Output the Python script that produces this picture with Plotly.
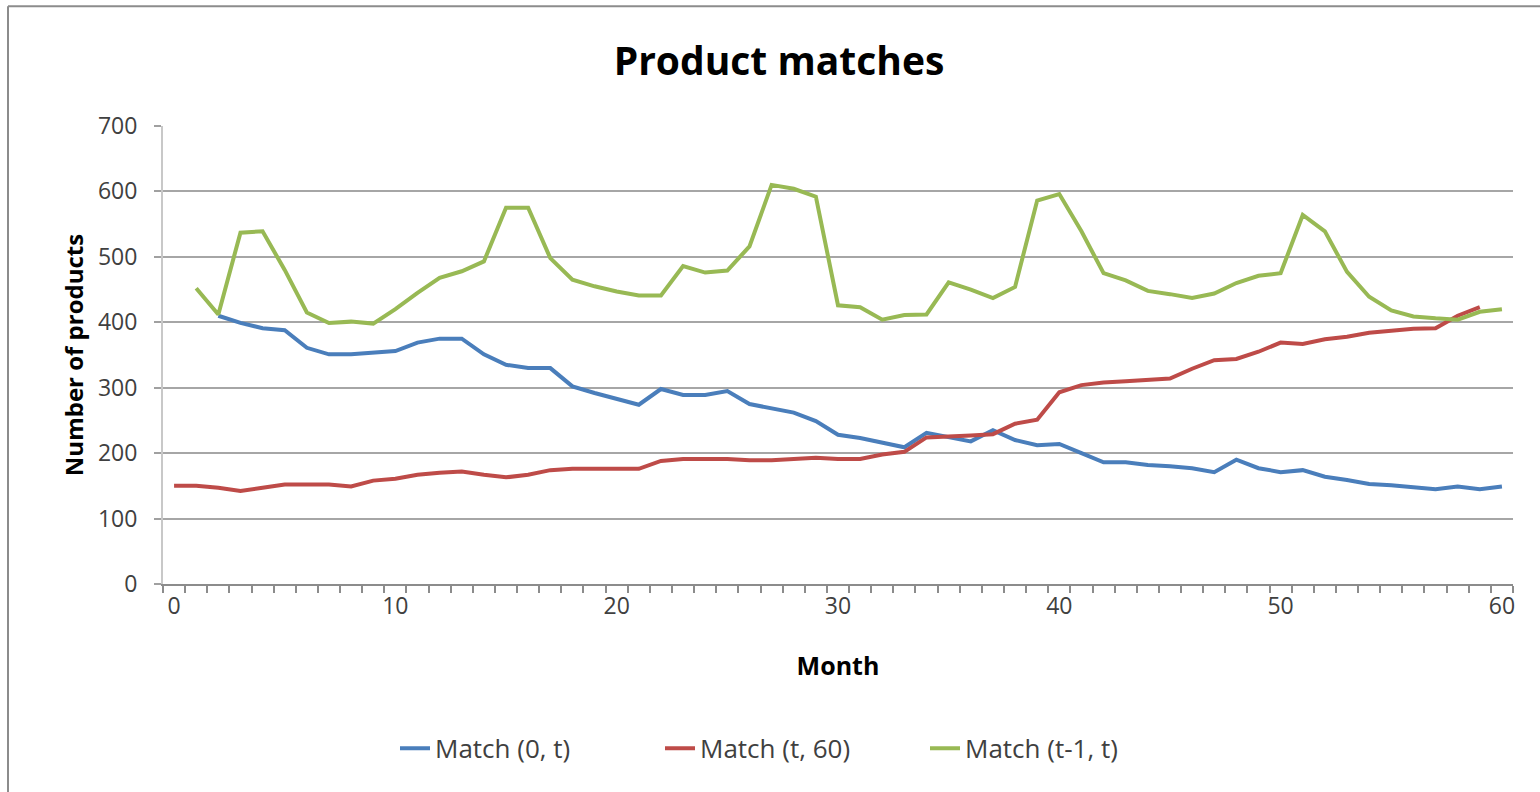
import plotly.graph_objects as go

# Categories (months)
months_match_0_t = list(range(2, 61))
months_match_t_60 = list(range(0, 60))
months_match_prev_t = list(range(1, 61))

# Series values
match_0_t = [410, 399, 391, 388, 361, 351, 351, 354, 356, 369,
             375, 375, 351, 335, 330, 330, 302, 292, 283, 274,
             298, 289, 289, 295, 275, 269, 262, 249, 228, 223,
             216, 209, 231, 224, 218, 235, 220, 212, 214, 200,
             186, 186, 182, 180, 177, 171, 190, 177, 171, 174,
             164, 159, 153, 151, 148, 145, 149, 145, 149]
match_t_60 = [150, 150, 147, 142, 147, 152, 152, 152, 149, 158,
              161, 167, 170, 172, 167, 163, 167, 174, 176, 176,
              176, 176, 188, 191, 191, 191, 189, 189, 191, 193,
              191, 191, 198, 202, 224, 225, 227, 229, 245, 251,
              293, 304, 308, 310, 312, 314, 329, 342, 344, 355,
              369, 367, 374, 378, 384, 387, 390, 391, 410, 423]
match_prev_t = [452, 412, 537, 539, 480, 415, 399, 401, 398, 420,
                445, 468, 478, 493, 575, 575, 498, 465, 455, 447,
                441, 441, 486, 476, 479, 516, 610, 604, 592, 426,
                423, 404, 411, 412, 461, 450, 437, 454, 586, 596,
                539, 475, 464, 448, 443, 437, 444, 460, 471, 475,
                564, 539, 477, 439, 418, 409, 406, 404, 416, 420]

x_tick_vals = [0, 10, 20, 30, 40, 50, 60]
x_tick_text = ["0", "10", "20", "30", "40", "50", "60"]
y_tick_vals = [0, 100, 200, 300, 400, 500, 600, 700]

FONT = "Open Sans"
TXT = "#404040"

fig = go.Figure()
fig.add_trace(go.Scatter(x=months_match_0_t, y=match_0_t, mode="lines",
                         name="Match (0, t)", line=dict(color="#4A7EBB", width=4)))
fig.add_trace(go.Scatter(x=months_match_t_60, y=match_t_60, mode="lines",
                         name="Match (t, 60)", line=dict(color="#BE4B48", width=4)))
fig.add_trace(go.Scatter(x=months_match_prev_t, y=match_prev_t, mode="lines",
                         name="Match (t-1, t)", line=dict(color="#98B954", width=4)))

W, H = 1540, 792
L, R, T, B = 163, 27, 126, 207.5
pw, ph = W - L - R, H - T - B

def px_x(p):
    return (p - L) / pw

def px_y(p):
    return (H - B - p) / ph

fig.update_layout(
    width=W, height=H,
    margin=dict(l=L, r=R, t=T, b=B, pad=0),
    paper_bgcolor="white", plot_bgcolor="white",
    font=dict(family=FONT, color=TXT, size=23),
    title=dict(text="<b>Product matches</b>", x=779 / W,
               xanchor="center", y=1 - 61 / H, yanchor="middle", yref="container",
               font=dict(family=FONT, size=39, color="#000000")),
    showlegend=True,
    legend=dict(orientation="h", x=px_x(395), xanchor="left",
                y=px_y(749), yanchor="middle",
                font=dict(family=FONT, size=26, color=TXT),
                entrywidth=220, entrywidthmode="pixels",
                tracegroupgap=0, bgcolor="rgba(0,0,0,0)"),
    xaxis=dict(range=[-0.5, 60.5], tickmode="array", tickvals=x_tick_vals,
               ticktext=x_tick_text, ticks="", showgrid=False, zeroline=False,
               showline=True, linecolor="#8C8C8C", linewidth=2,
               tickfont=dict(family=FONT, size=23, color=TXT),
               minor=dict(tick0=-0.5, dtick=1, ticks="outside", ticklen=7,
                          tickcolor="#8C8C8C", tickwidth=2, showgrid=False),
               title=dict(text="<b>Month</b>", standoff=38,
                          font=dict(family=FONT, size=25, color="#000000"))),
    yaxis=dict(range=[0, 700], tickmode="array", tickvals=y_tick_vals,
               ticks="outside", ticklen=7, tickcolor="#A0A0A0", tickwidth=2,
               showgrid=True, gridcolor="#A6A6A6", gridwidth=2, zeroline=False,
               showline=True, linecolor="#C8C8C8", linewidth=2,
               tickfont=dict(family=FONT, size=23, color=TXT),
               ticklabelstandoff=12,
               title=dict(text="<b>Number of products</b>", standoff=8,
                          font=dict(family=FONT, size=24, color="#000000"))),
    shapes=[
        dict(type="line", xref="paper", yref="paper", x0=px_x(8), x1=px_x(1545),
             y0=px_y(6), y1=px_y(6), line=dict(color="#8C8C8C", width=2)),
        dict(type="line", xref="paper", yref="paper", x0=px_x(8), x1=px_x(8),
             y0=px_y(6), y1=px_y(800), line=dict(color="#8C8C8C", width=2)),
    ],
)

fig.write_html("out.html", config={"displayModeBar": False},
               post_script="document.body.style.margin='0';document.body.style.overflow='hidden';")
